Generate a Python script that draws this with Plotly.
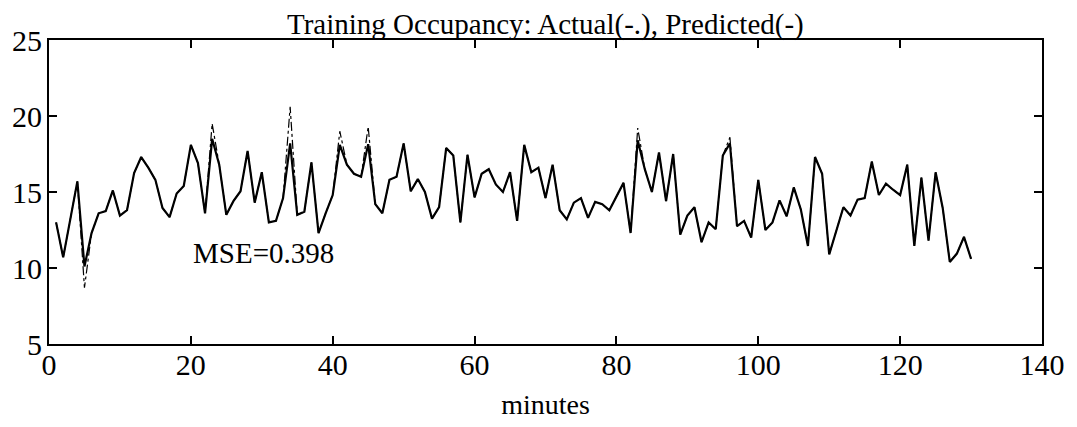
import plotly.graph_objects as go

minutes = list(range(1, 131))

predicted = [
    13.0, 10.7, 13.2, 15.7, 10.1, 12.3, 13.6, 13.75, 15.1, 13.45,
    13.8, 16.25, 17.3, 16.6, 15.8, 13.95, 13.35, 14.9, 15.4, 18.1,
    16.9, 13.6, 18.5, 16.8, 13.5, 14.4, 15.05, 17.7, 14.3, 16.3,
    13.0, 13.1, 14.6, 18.2, 13.5, 13.7, 16.95, 12.3, 13.6, 14.8,
    18.1, 16.8, 16.2, 16.0, 18.15, 14.2, 13.6, 15.8, 16.0, 18.2,
    15.05, 15.85, 15.0, 13.25, 14.0, 17.9, 17.4, 13.0, 17.45, 14.65,
    16.2, 16.5, 15.5, 15.0, 16.3, 13.1, 18.1, 16.3, 16.6, 14.6,
    16.8, 13.8, 13.2, 14.3, 14.6, 13.3, 14.35, 14.2, 13.8, 14.7,
    15.6, 12.3, 18.4, 16.5, 15.0, 17.6, 14.4, 17.5, 12.2, 13.45,
    14.0, 11.7, 13.0, 12.55, 17.4, 18.2, 12.75, 13.1, 12.0, 15.8,
    12.5, 13.0, 14.45, 13.4, 15.3, 13.85, 11.45, 17.3, 16.2, 10.9,
    12.4, 14.0, 13.45, 14.5, 14.6, 17.0, 14.8, 15.55, 15.15, 14.8,
    16.8, 11.45, 15.95, 11.8, 16.3, 13.95, 10.4, 10.95, 12.05, 10.6,
]

actual = [
    13.0, 10.7, 13.2, 15.7, 8.7, 12.3, 13.6, 13.75, 15.1, 13.45,
    13.8, 16.25, 17.3, 16.6, 15.8, 13.95, 13.35, 14.9, 15.4, 18.1,
    16.9, 13.6, 19.5, 16.8, 13.5, 14.4, 15.05, 17.7, 14.3, 16.3,
    13.0, 13.1, 14.6, 20.6, 13.5, 13.7, 16.95, 12.3, 13.6, 14.8,
    19.0, 16.8, 16.2, 16.0, 19.3, 14.2, 13.6, 15.8, 16.0, 18.2,
    15.05, 15.85, 15.0, 13.25, 14.0, 17.9, 17.4, 13.0, 17.45, 14.65,
    16.2, 16.5, 15.5, 15.0, 16.3, 13.1, 18.1, 16.3, 16.6, 14.6,
    16.8, 13.8, 13.2, 14.3, 14.6, 13.3, 14.35, 14.2, 13.8, 14.7,
    15.6, 12.3, 19.2, 16.5, 15.0, 17.6, 14.4, 17.5, 12.2, 13.45,
    14.0, 11.7, 13.0, 12.55, 17.4, 18.6, 12.75, 13.1, 12.0, 15.8,
    12.5, 13.0, 14.45, 13.4, 15.3, 13.85, 11.45, 17.3, 16.2, 10.9,
    12.4, 14.0, 13.45, 14.5, 14.6, 17.0, 14.8, 15.55, 15.15, 14.8,
    16.8, 11.45, 15.95, 11.8, 16.3, 13.95, 10.4, 10.95, 12.05, 10.6,
]

x_ticks = [0, 20, 40, 60, 80, 100, 120, 140]
y_ticks = [5, 10, 15, 20, 25]
title_text = "Training Occupancy: Actual(-.), Predicted(-)"
mse_text = "MSE=0.398"

FONT = "Liberation Serif"

fig = go.Figure()

# Actual occupancy: thin dash-dot line, drawn underneath
fig.add_trace(go.Scatter(
    x=minutes, y=actual, mode="lines", name="Actual",
    line=dict(color="black", width=1.2, dash="dashdot"),
))

# Predicted occupancy: solid line on top
fig.add_trace(go.Scatter(
    x=minutes, y=predicted, mode="lines", name="Predicted",
    line=dict(color="black", width=2.2),
))

fig.add_annotation(
    x=20, y=11, xref="x", yref="y", text=mse_text, showarrow=False,
    xanchor="left", yanchor="middle",
    font=dict(family=FONT, size=29, color="black"),
)

# Title sits directly on the top frame line
fig.add_annotation(
    x=0.5, y=1, xref="paper", yref="paper", text=title_text,
    showarrow=False, xanchor="center", yanchor="bottom", yshift=-3,
    font=dict(family=FONT, size=29, color="black"),
)

axis_common = dict(
    showgrid=False, zeroline=False, showline=True, linecolor="black",
    linewidth=1.8, mirror="ticks", ticks="inside", ticklen=8,
    tickwidth=1.5, tickcolor="black",
    tickfont=dict(family=FONT, size=30, color="black"),
)

fig.update_xaxes(
    range=[0, 140], tickvals=x_ticks, ticktext=[str(v) for v in x_ticks],
    ticklabelstandoff=-7,
    title=dict(text="minutes", font=dict(family=FONT, size=28, color="black"),
               standoff=14),
    **axis_common,
)
fig.update_yaxes(
    range=[5, 25], tickvals=y_ticks, ticktext=[str(v) for v in y_ticks],
    ticklabelstandoff=-1,
    **axis_common,
)

fig.update_layout(
    width=1077, height=427,
    margin=dict(l=48, r=30, t=40, b=82),
    paper_bgcolor="white", plot_bgcolor="white",
    showlegend=False,
)

fig.write_html("out.html")
